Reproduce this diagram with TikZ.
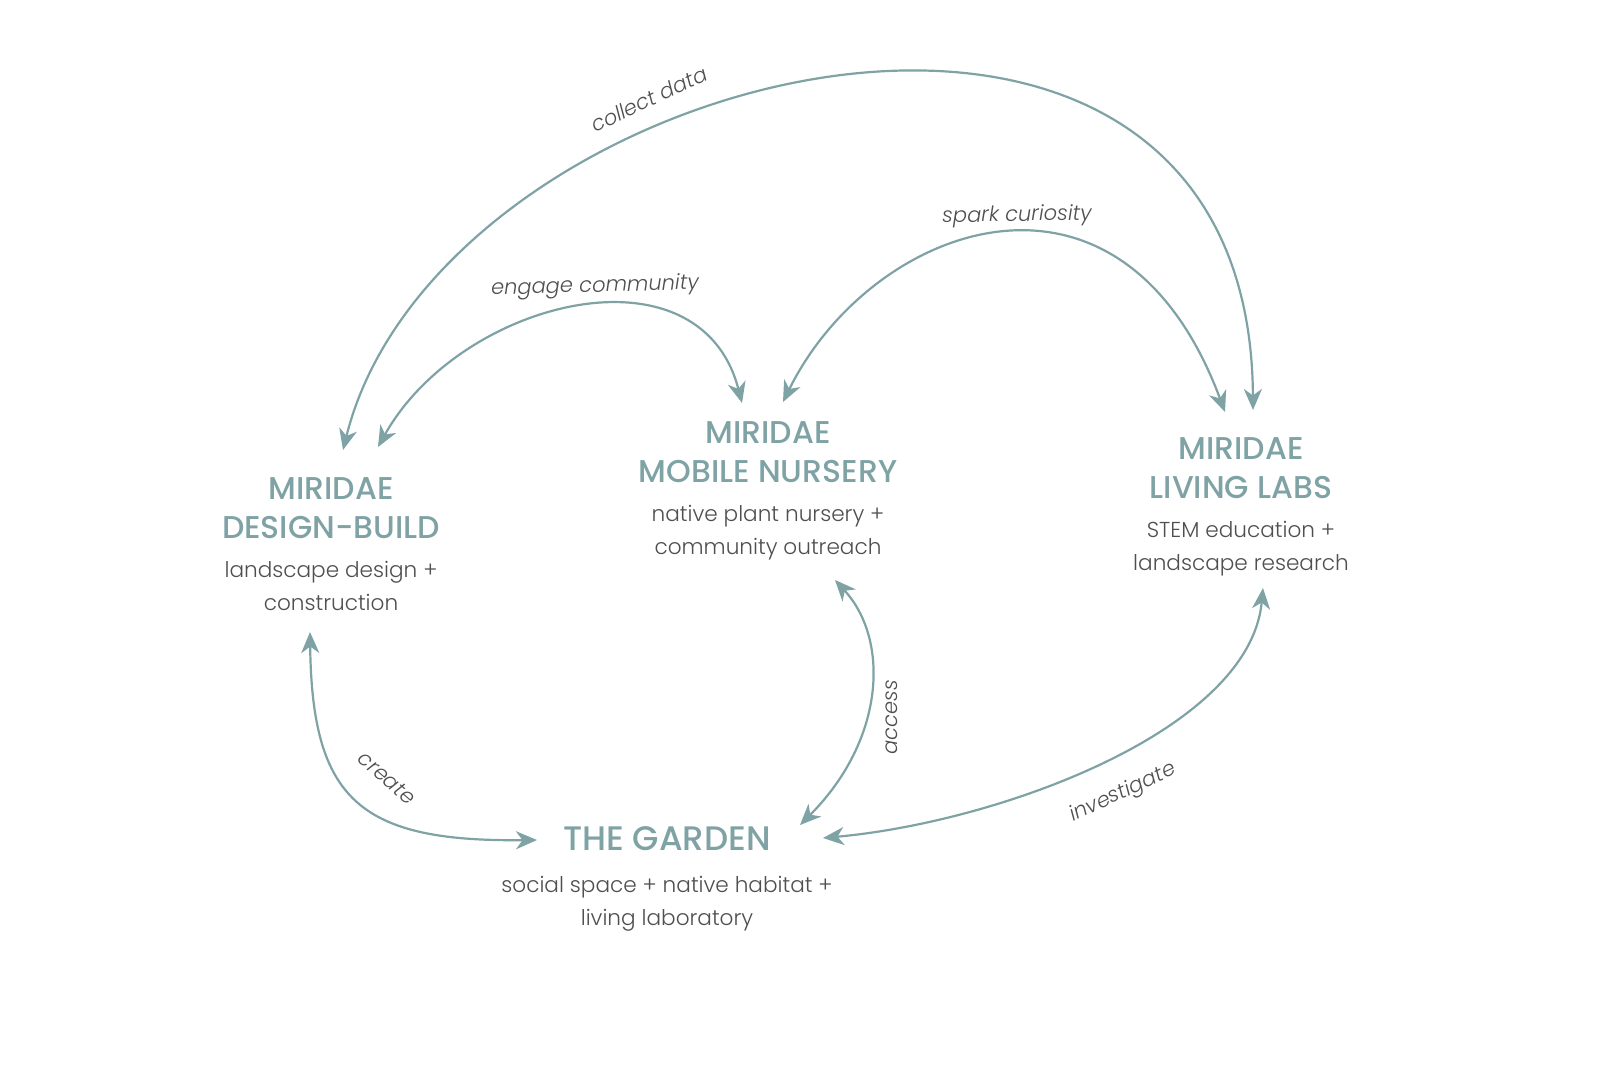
\documentclass[tikz,border=0pt]{standalone}
\usepackage{fontspec}
\setmainfont{Poppins}[UprightFont=*-Light, BoldFont=*-Medium, ItalicFont=*-LightItalic]
\usetikzlibrary{arrows.meta}
\definecolor{miriteal}{HTML}{7FA2A5}
\definecolor{txtgray}{HTML}{4F4F4F}
\begin{document}
\begin{tikzpicture}[x=1pt,y=-1pt,
  title/.style={text=miriteal, font=\bfseries\fontsize{31.5}{39}\selectfont, align=center, inner sep=0pt},
  bigtitle/.style={title, font=\bfseries\fontsize{34}{39}\selectfont},
  body/.style={text=txtgray, font=\fontsize{21.6}{33}\selectfont, align=center, inner sep=0pt},
  lbl/.style={text=txtgray, font=\itshape\fontsize{21}{24}\selectfont, inner sep=0pt},
  link/.style={draw=miriteal, line width=2.2pt,
    {Stealth[length=21pt,width=18pt,inset=6.5pt]}-{Stealth[length=21pt,width=18pt,inset=6.5pt]}}]
\path[use as bounding box, fill=white] (0,0) rectangle (1618,1078);

% blocks
\node[title] (dbt) at (331,508.5) {MIRIDAE\\DESIGN-BUILD};
\node[body]  (dbb) at (331,586) {landscape design +\\construction};
\node[title] (mnt) at (768,452) {MIRIDAE\\MOBILE NURSERY};
\node[body]  (mnb) at (768,533) {native plant nursery +\\community outreach};
\node[title] (llt) at (1241,468.5) {MIRIDAE\\LIVING LABS};
\node[body]  (llb) at (1241,548.5) {STEM education +\\landscape research};
\node[bigtitle] (gdt) at (667,839) {THE GARDEN};
\node[body]  (gdb) at (667,904) {social space + native habitat +\\living laboratory};

% connector end points
\coordinate (db-a) at (343,450);
\coordinate (db-b) at (378,447);
\coordinate (db-c) at (310,632);
\coordinate (mn-a) at (742,403);
\coordinate (mn-b) at (783,402);
\coordinate (mn-c) at (835,580);
\coordinate (ll-a) at (1225,412);
\coordinate (ll-b) at (1253,410);
\coordinate (ll-c) at (1263,588);
\coordinate (gd-a) at (537,840);
\coordinate (gd-b) at (800,825);
\coordinate (gd-c) at (823,838);

% connectors
\draw[link] (db-a) .. controls (440,60) and (1250,-135) .. (ll-b);
\draw[link] (db-b) .. controls (460,300) and (700,240) .. (mn-a);
\draw[link] (mn-b) .. controls (870,225) and (1120,130) .. (ll-a);
\draw[link] (db-c) .. controls (312,800) and (360,842) .. (gd-a);
\draw[link] (mn-c) .. controls (890,640) and (885,740) .. (gd-b);
\draw[link] (ll-c) .. controls (1250,730) and (1000,822) .. (gd-c);

% labels
\node[lbl, rotate=25] (l-collect) at (649,99) {collect data};
\node[lbl, rotate=1.5] (l-engage) at (595,287) {engage community};
\node[lbl, rotate=1] (l-spark) at (1017,216) {spark curiosity};
\node[lbl, rotate=-41] (l-create) at (387,778) {create};
\node[lbl, rotate=90] (l-access) at (892,717) {access};
\node[lbl, rotate=25] (l-invest) at (1123,793) {investigate};
\end{tikzpicture}
\end{document}
